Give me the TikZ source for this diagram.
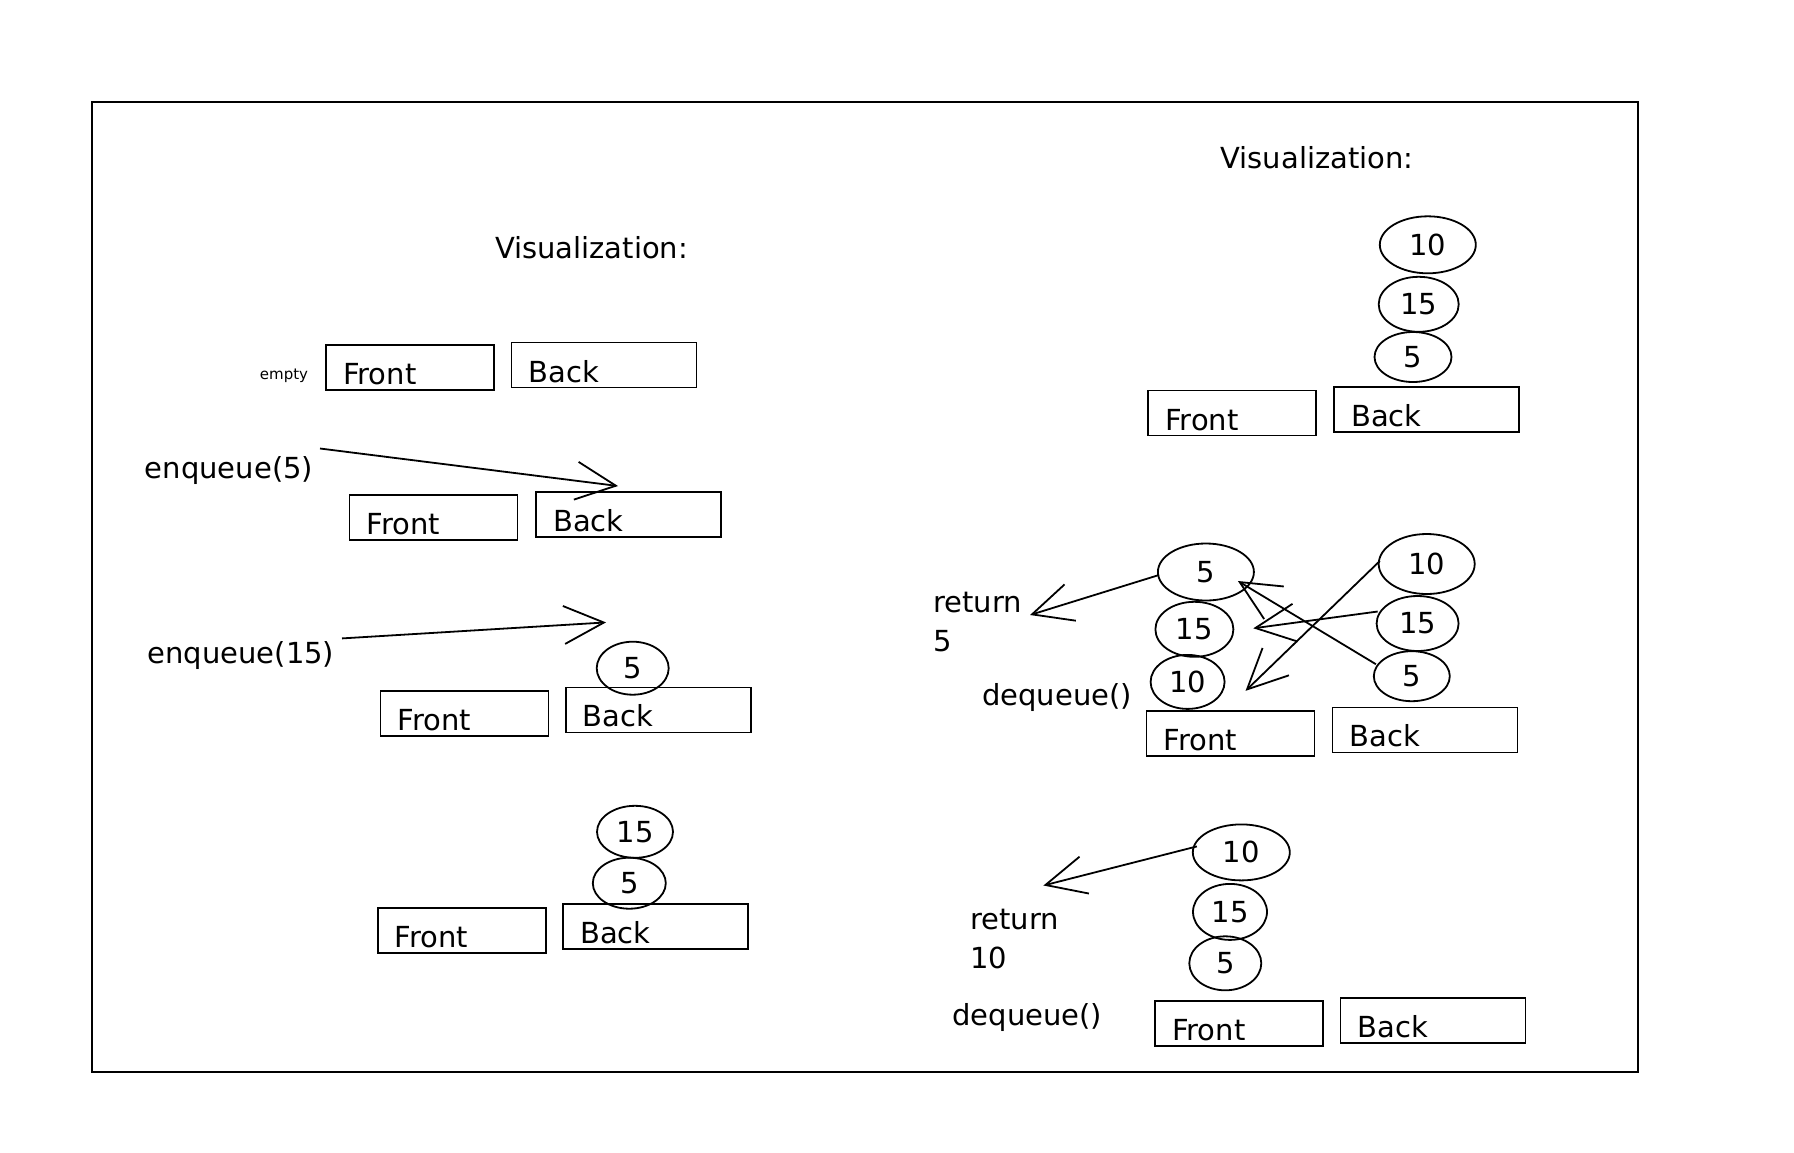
\documentclass[tikz,border=0pt]{standalone}
\usepackage{fontspec}
\setmainfont{DejaVu Sans}
\usetikzlibrary{shapes.geometric,arrows.meta,calc}
\begin{document}
\begin{tikzpicture}[x=1pt,y=-1pt,
  every node/.style={font=\fontsize{29}{36}\selectfont, text=black},
  frontbox/.style={draw, line width=1.8pt, minimum height=45pt, text width=134pt, text height=34pt, text depth=0pt, inner xsep=17pt, inner ysep=0pt, align=left},
  backbox/.style={draw, line width=1.8pt, minimum height=45pt, text width=151pt, text height=34pt, text depth=0pt, inner xsep=17pt, inner ysep=0pt, align=left},
  item/.style={draw, ellipse, line width=1.8pt, inner sep=0pt},
  lbl/.style={inner sep=0pt},
  retlbl/.style={inner sep=0pt, anchor=west, align=left, font=\fontsize{29}{39}\selectfont},
  arr/.style={line width=1.8pt, -{Straight Barb[length=40pt,width=38pt]}},
]
\useasboundingbox (0,0) rectangle (1794,1152);
\fill[white] (0,0) rectangle (1794,1152);
% frame
\draw[line width=2pt] (91.5,101.8) rectangle (1638.3,1072);

% ---------- left panel ----------
\node[lbl] (visL) at (591.5,248) {Visualization:};
\node[lbl, font=\fontsize{15}{18}\selectfont] (empty) at (284,376) {empty};
\node[frontbox] (F1) at (410,367.5) {Front};
\node[backbox] (B1) at (604,365) {Back};

\node[lbl] (enq5) at (229,471) {enqueue(5)};
\coordinate (e5s) at (320,448.5);
\coordinate (e5t) at (618,486);
\draw[arr] (e5s) -- (e5t);
\node[frontbox] (F2) at (433.5,517.7) {Front};
\node[backbox] (B2) at (628.7,514.8) {Back};

\node[lbl] (enq15) at (241,656) {enqueue(15)};
\coordinate (e15s) at (342,638.4);
\coordinate (e15t) at (606,622.4);
\draw[arr] (e15s) -- (e15t);
\node[frontbox] (F3) at (464.5,713.4) {Front};
\node[backbox] (B3) at (658.3,709.9) {Back};
\node[item, minimum width=72pt, minimum height=53pt] (L3a) at (632.7,668.2) {5};

\node[frontbox] (F4) at (461.7,930.2) {Front};
\node[backbox] (B4) at (655.6,926.7) {Back};
\node[item, minimum width=76pt, minimum height=52pt] (L4a) at (635,831.8) {15};
\node[item, minimum width=73pt, minimum height=51pt] (L4b) at (629.3,883.2) {5};

% ---------- right panel: top ----------
\node[lbl] (visR) at (1317,158) {Visualization:};
\node[item, minimum width=96pt, minimum height=57pt] (t10) at (1427.8,244.8) {10};
\node[item, minimum width=80pt, minimum height=55pt] (t15) at (1418.7,304.3) {15};
\node[item, minimum width=77pt, minimum height=50pt] (t5) at (1413,357) {5};
\node[frontbox] (RF1) at (1232.2,413) {Front};
\node[backbox] (RB1) at (1426.7,409.6) {Back};

% ---------- right panel: middle ----------
\node[item, minimum width=96pt, minimum height=57pt] (m5) at (1205.9,572) {5};
\node[item, minimum width=78pt, minimum height=55pt] (m15) at (1194.4,629.3) {15};
\node[item, minimum width=74pt, minimum height=54pt] (m10) at (1187.6,681.9) {10};
\node[item, minimum width=96pt, minimum height=60pt] (n10) at (1426.7,564) {10};
\node[item, minimum width=82pt, minimum height=55pt] (n15) at (1417.6,623.5) {15};
\node[item, minimum width=76pt, minimum height=50pt] (n5) at (1411.8,676.2) {5};
\node[frontbox] (RF2) at (1230.5,733.4) {Front};
\node[backbox] (RB2) at (1425,729.9) {Back};
\node[retlbl] (ret1) at (933,622) {return\\5};
\node[lbl] (deq1) at (1057,697) {dequeue()};
\coordinate (r1t) at (1030,615);
\draw[arr] ($(m5.west)+(2,3)$) -- (r1t);
\draw[arr] ($(n5.west)+(3,-12)$) -- ($(m5.center)+(32,9)$);
\draw[arr] ($(n15.west)+(2,-12)$) -- ($(m15.east)+(19,-1)$);
\draw[arr] ($(n10.west)+(2,-3)$) -- ($(m10.east)+(20,9)$);

% ---------- right panel: bottom ----------
\node[item, minimum width=97pt, minimum height=56pt] (b10) at (1241.3,852.4) {10};
\node[item, minimum width=74pt, minimum height=56pt] (b15) at (1230,911.9) {15};
\node[item, minimum width=72pt, minimum height=54pt] (b5) at (1225.3,963.3) {5};
\node[frontbox] (RF3) at (1239,1023.3) {Front};
\node[backbox] (RB3) at (1433,1020.5) {Back};
\node[retlbl] (ret2) at (970,939) {return\\10};
\node[lbl] (deq2) at (1027.4,1017) {dequeue()};
\coordinate (r2t) at (1043.4,885.5);
\draw[arr] ($(b10.west)+(5,-6)$) -- (r2t);
\end{tikzpicture}
\end{document}
